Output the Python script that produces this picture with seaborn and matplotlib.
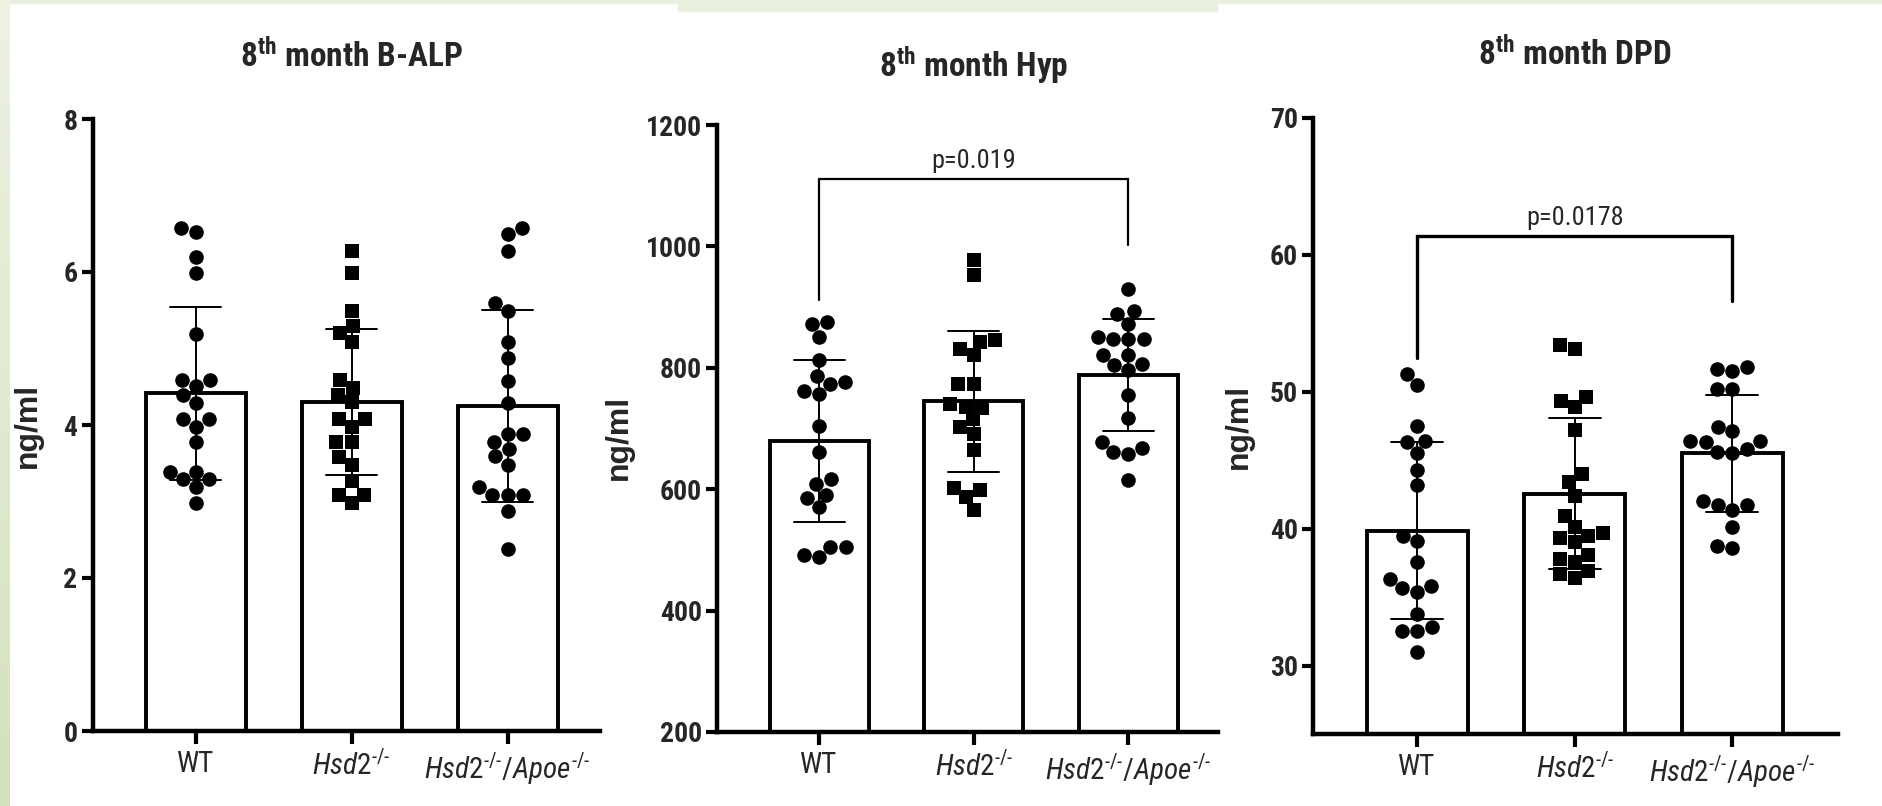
import numpy as np
import pandas as pd
import seaborn as sns
import matplotlib.pyplot as plt
from matplotlib import font_manager
from matplotlib.patches import Rectangle

# groups on the x axis
groups = ["WT", "Hsd2", "Hsd2/Apoe"]
group_labels = ["WT", r"$\mathit{Hsd2}^{\text{-/-}}$",
                r"$\mathit{Hsd2}^{\text{-/-}}\mathit{/Apoe}^{\text{-/-}}$"]

# 8th month B-ALP (ng/ml)
balp_wt = [6.52, 6.58, 6.19, 5.99, 5.19, 4.59, 4.59, 4.51, 4.39, 4.29,
           4.08, 4.08, 3.98, 3.78, 3.39, 3.39, 3.29, 3.29, 3.19, 2.98]
balp_hsd2 = [6.28, 5.99, 5.49, 5.29, 5.20, 5.08, 4.59, 4.49, 4.39, 4.30, 4.08,
             4.08, 3.98, 3.78, 3.78, 3.58, 3.48, 3.27, 3.09, 3.09, 2.98]
balp_apoe = [6.58, 6.50, 6.28, 5.59, 5.49, 5.08, 4.88, 4.58, 4.29, 3.88, 3.88,
             3.78, 3.68, 3.59, 3.48, 3.19, 3.09, 3.09, 3.09, 2.87, 2.38]

# 8th month Hyp (ng/ml)
hyp_wt = [872, 875, 851, 813, 787, 777, 774, 762, 757, 704,
          661, 617, 609, 591, 585, 570, 504, 504, 491, 488]
hyp_hsd2 = [978, 953, 845, 843, 821, 831, 774, 774, 740, 734,
            736, 715, 702, 691, 664, 602, 598, 587, 566]
hyp_apoe = [930, 894, 888, 872, 851, 847, 847, 847, 821, 821,
            806, 804, 796, 755, 717, 678, 668, 661, 658, 615]

# 8th month DPD (ng/ml)
dpd_wt = [51.3, 50.5, 47.5, 46.4, 46.3, 45.5, 44.3, 43.2, 39.5, 39.1,
          37.6, 36.3, 35.8, 35.7, 35.4, 33.8, 32.8, 32.5, 32.5, 31.0]
dpd_hsd2 = [53.4, 53.1, 49.6, 49.3, 48.9, 47.2, 44.0, 43.4, 42.4, 40.9, 40.1,
            39.5, 39.7, 39.3, 39.0, 38.1, 37.6, 37.8, 36.9, 36.7, 36.4]
dpd_apoe = [51.8, 51.7, 51.5, 50.2, 50.2, 47.4, 47.1, 46.4, 46.3, 46.4,
            45.8, 45.6, 45.5, 42.0, 41.7, 41.7, 41.4, 40.1, 38.6, 38.7]

# significance brackets: [bar height, left leg end, right leg end]
hyp_bracket = [1111, 911, 1002]
hyp_p = "p=0.019"
dpd_bracket = [61.4, 52.5, 56.6]
dpd_p = "p=0.0178"

titles = [r"8$^{\mathbf{th}}$ month B-ALP", r"8$^{\mathbf{th}}$ month Hyp",
          r"8$^{\mathbf{th}}$ month DPD"]


# look for a narrow / condensed sans, the reference text is squeezed
fonts = font_manager.fontManager.ttflist
names = {f.name for f in fonts}
condensed = {f.name for f in fonts if f.stretch in ("condensed", "semi-condensed")}
stretch = "normal"
if "Liberation Sans Narrow" in names:
    family = "Liberation Sans Narrow"
elif "Roboto Condensed" in names:
    family = "Roboto Condensed"
elif "DejaVu Sans" in condensed:
    family = "DejaVu Sans"
    stretch = "condensed"
else:
    family = "Liberation Sans"

sns.set_style("white")
plt.rcParams["font.family"] = [family, "DejaVu Sans"]
plt.rcParams["font.stretch"] = stretch
plt.rcParams["mathtext.fontset"] = "custom"
suffix = ":condensed" if stretch == "condensed" else ""
plt.rcParams["mathtext.rm"] = family + suffix
plt.rcParams["mathtext.it"] = family + ":italic" + suffix
plt.rcParams["mathtext.bf"] = family + ":bold" + suffix


def long_table(values):
    rows = []
    for g, vals in zip(groups, values):
        for v in vals:
            rows.append((g, v))
    return pd.DataFrame(rows, columns=["group", "value"])


fig = plt.figure(figsize=(18.83, 8.06), dpi=100, facecolor="white")

# slide background bits (green frame)
grad = fig.add_axes([0, 0, 10 / 1883, 1])
grad.imshow(np.linspace(0, 1, 100).reshape(-1, 1), aspect="auto",
            cmap=sns.blend_palette(["#edf2e3", "#d5e1bd"], as_cmap=True))
grad.axis("off")
fig.patches.append(Rectangle((0, 1 - 3 / 806), 1, 3 / 806, transform=fig.transFigure,
                             color="#eaf0df", zorder=-1))
fig.patches.append(Rectangle((678 / 1883, 1 - 11 / 806), 539 / 1883, 11 / 806,
                             transform=fig.transFigure, color="#eaf0df", zorder=-1))

panels = [
    dict(rect=[92.7 / 1883, 75 / 806, 507 / 1883, 612 / 806], xlim=(-0.66, 2.59),
         data=[balp_wt, balp_hsd2, balp_apoe], ylim=(0, 8), yticks=[0, 2, 4, 6, 8],
         bracket=None, p=None, lab_x=-0.099, lab_y=0.5, title_y=1.101),
    dict(rect=[717 / 1883, 74 / 806, 501 / 1883, 607 / 806], xlim=(-0.66, 2.58),
         data=[hyp_wt, hyp_hsd2, hyp_apoe], ylim=(200, 1200),
         yticks=[200, 400, 600, 800, 1000, 1200],
         bracket=hyp_bracket, p=hyp_p, lab_x=-0.165, lab_y=0.485, title_y=1.097),
    dict(rect=[1313 / 1883, 72 / 806, 525 / 1883, 616 / 806], xlim=(-0.66, 2.67),
         data=[dpd_wt, dpd_hsd2, dpd_apoe], ylim=(25, 70), yticks=[30, 40, 50, 60, 70],
         bracket=dpd_bracket, p=dpd_p, lab_x=-0.112, lab_y=0.5, title_y=1.103),
]

markers = ["o", "s", "o"]

for i, pnl in enumerate(panels):
    ax = fig.add_axes(pnl["rect"])
    df = long_table(pnl["data"])

    sns.barplot(data=df, x="group", y="value", order=groups, errorbar="sd",
                color="white", edgecolor="black", linewidth=2.8, width=0.64,
                capsize=0.33, err_kws={"color": "black", "linewidth": 1.4}, ax=ax)
    for g, mk in zip(groups, markers):
        sns.swarmplot(data=df[df["group"] == g], x="group", y="value", order=groups,
                      marker=mk, size=10.5, color="black", ax=ax)
    for c in ax.collections:
        c.set_zorder(4)

    ax.set_xlim(*pnl["xlim"])
    ax.set_ylim(*pnl["ylim"])
    ax.set_yticks(pnl["yticks"])
    ax.set_yticklabels([str(t) for t in pnl["yticks"]], fontweight="bold", fontsize=20)
    ax.set_xticks(range(3))
    ax.set_xticklabels(group_labels, fontsize=21)
    ax.set_xlabel("")
    ax.set_ylabel("ng/ml", fontsize=23, fontweight="bold",
                  family=["Liberation Sans", "DejaVu Sans"], stretch="normal")
    ax.yaxis.set_label_coords(pnl["lab_x"], pnl["lab_y"])

    sns.despine(ax=ax)
    for s in ["left", "bottom"]:
        ax.spines[s].set_linewidth(3.2)
        ax.spines[s].set_color("black")
    ax.tick_params(axis="y", length=8, width=3, pad=3, color="black", left=True)
    ax.tick_params(axis="x", length=9, width=3, pad=5, color="black", bottom=True)
    ax.patch.set_alpha(0)

    ax.text(1, pnl["title_y"], titles[i], transform=ax.get_xaxis_transform(),
            ha="center", va="center", fontsize=24, fontweight="bold")

    if pnl["bracket"] is not None:
        top, left_end, right_end = pnl["bracket"]
        lw = 1.6 if i == 1 else 2.4
        ax.plot([0, 0, 2, 2], [left_end, top, top, right_end], color="black",
                linewidth=lw, solid_joinstyle="miter", clip_on=False)
        ax.annotate(pnl["p"], xy=(1, top), xytext=(0, 4), textcoords="offset points",
                    ha="center", va="bottom", fontsize=19)

fig.savefig("out.png", dpi=100, facecolor="white")
